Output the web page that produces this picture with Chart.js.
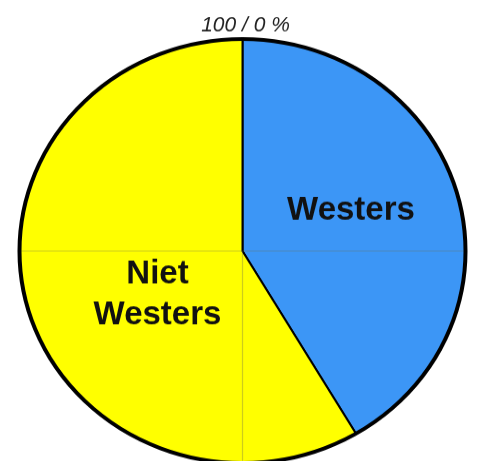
<!DOCTYPE html>
<html>
<head>
<meta charset="utf-8">
<script src="https://cdn.jsdelivr.net/npm/chart.js@4"></script>
<style>
html, body { margin: 0; padding: 0; background: #fff; width: 478px; height: 461px; overflow: hidden; }
#wrap { position: absolute; left: 0; top: 0; width: 478px; height: 500px; transform-origin: 0 0; transform: scaleY(0.951); }
</style>
</head>
<body>
<div id="wrap"><canvas id="chart"></canvas></div>
<script>
const categories = ['Westers', 'Niet Westers'];
const shares = [41.5, 58.5];
const sliceColors = ['#3c96f6', '#ffff00'];
const sliceLabels = [['Westers'], ['Niet', 'Westers']];
const topLabel = '100 / 0 %';

// the picture is slightly squashed vertically
const SY = 0.951;

// label anchors, offset from the pie centre in screen pixels
const labelSpots = [
    { dx: 108.5, dy: -31 },
    { dx: -85, dy: 32 }
];
const lineGap = 41;

const overlay = {
    id: 'overlay',
    afterDatasetsDraw(chart) {
        const arc = chart.getDatasetMeta(0).data[0];
        const { x, y, outerRadius } = arc;
        const ctx = chart.ctx;
        ctx.save();
        // faint cross lines
        ctx.strokeStyle = 'rgba(110,110,80,0.35)';
        ctx.lineWidth = 1.2;
        ctx.beginPath();
        ctx.moveTo(x - outerRadius, y);
        ctx.lineTo(x + outerRadius, y);
        ctx.moveTo(x, y);
        ctx.lineTo(x, y + outerRadius);
        ctx.stroke();
        // heavy outer ring
        ctx.strokeStyle = '#000';
        ctx.lineWidth = 4;
        ctx.beginPath();
        ctx.arc(x, y, outerRadius, 0, Math.PI * 2);
        ctx.stroke();
        ctx.restore();
    },
    afterDraw(chart) {
        const arc = chart.getDatasetMeta(0).data[0];
        const { x, y } = arc;
        const ctx = chart.ctx;

        const put = (text, dx, dy, font, color) => {
            ctx.save();
            ctx.translate(x + dx, y + dy / SY);
            ctx.scale(1, 1 / SY);
            ctx.font = font;
            ctx.fillStyle = color;
            ctx.textAlign = 'center';
            ctx.textBaseline = 'alphabetic';
            ctx.fillText(text, 0, 0);
            ctx.restore();
        };

        sliceLabels.forEach((lines, i) => {
            lines.forEach((line, j) => {
                put(line, labelSpots[i].dx, labelSpots[i].dy + j * lineGap,
                    'bold 33px "Liberation Sans", Arial, sans-serif', '#111');
            });
        });

        put(topLabel, 3, -220, 'italic 21px "Liberation Sans", Arial, sans-serif', '#222');
    }
};

new Chart(document.getElementById('chart'), {
    type: 'pie',
    data: {
        labels: categories,
        datasets: [{
            data: shares,
            backgroundColor: sliceColors,
            borderColor: '#000',
            borderWidth: 2
        }]
    },
    options: {
        responsive: true,
        maintainAspectRatio: false,
        animation: false,
        layout: { padding: { left: 18.5, right: 11.5, top: 40, bottom: 12 } },
        plugins: {
            legend: { display: false },
            tooltip: { enabled: false }
        }
    },
    plugins: [overlay]
});
</script>
</body>
</html>
